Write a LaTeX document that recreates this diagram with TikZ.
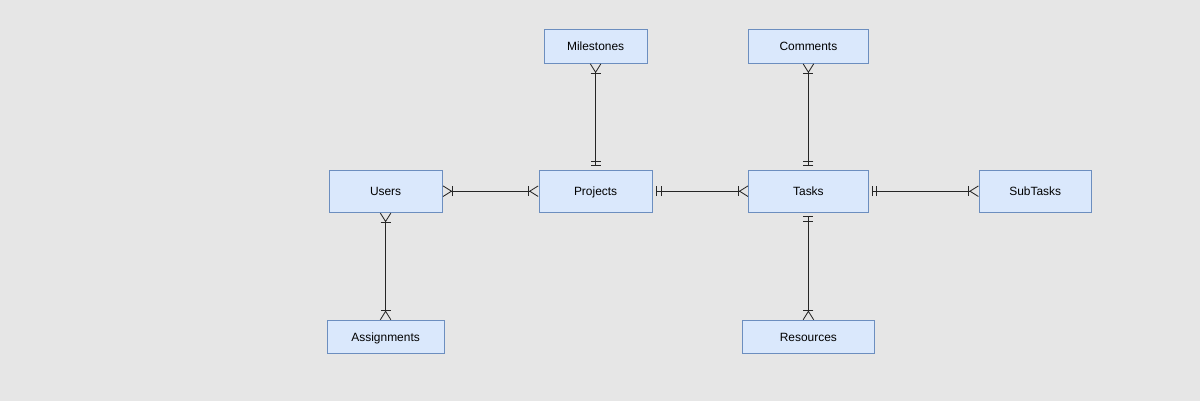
\documentclass[tikz,border=0pt]{standalone}
\usepackage{fontspec}
\setmainfont{Liberation Sans}
\usetikzlibrary{arrows.meta}
\definecolor{entityfill}{HTML}{DAE8FC}
\definecolor{entityline}{HTML}{6C8EBF}
\definecolor{canvas}{HTML}{E6E6E6}
\begin{document}
\begin{tikzpicture}[
    entity/.style={rectangle, draw=entityline, fill=entityfill, line width=0.6pt, minimum height=0.83cm, font=\fontsize{8.5}{10}\selectfont, text height=1.6ex, text depth=0.4ex, align=center},
    wide/.style={minimum height=1.05cm},
    rel/.style={line width=0.7pt, draw=black!85},
    onemany/.tip={Bar[width=7pt, sep=0pt] Straight Barb[reversed, length=6pt, width=7.5pt, line width=0.6pt]},
    oneonly/.tip={Bar[width=7pt, sep=2.5pt] Bar[width=7pt, sep=2.5pt]}
]
    \fill[canvas] (0,0) rectangle (30,-10.025);

    % Entities
    \node[entity, minimum width=2.58cm] (milestones) at (14.89, -1.16) {Milestones};
    \node[entity, minimum width=2.98cm] (comments) at (20.21, -1.16) {Comments};
    \node[entity, wide, minimum width=2.83cm] (users) at (9.64, -4.78) {Users};
    \node[entity, wide, minimum width=2.83cm] (projects) at (14.89, -4.78) {Projects};
    \node[entity, wide, minimum width=2.98cm] (tasks) at (20.21, -4.78) {Tasks};
    \node[entity, wide, minimum width=2.80cm] (subtasks) at (25.88, -4.78) {SubTasks};
    \node[entity, minimum width=2.93cm] (assignments) at (9.64, -8.43) {Assignments};
    \node[entity, minimum width=3.28cm] (resources) at (20.21, -8.43) {Resources};

    % Relationships
    \draw[rel, onemany-onemany] (users) -- (projects);
    \draw[rel, oneonly-onemany] (projects) -- (tasks);
    \draw[rel, oneonly-onemany] (tasks) -- (subtasks);
    \draw[rel, onemany-oneonly] (milestones) -- (projects);
    \draw[rel, onemany-oneonly] (comments) -- (tasks);
    \draw[rel, oneonly-onemany] (tasks) -- (resources);
    \draw[rel, onemany-onemany] (users) -- (assignments);
\end{tikzpicture}
\end{document}
